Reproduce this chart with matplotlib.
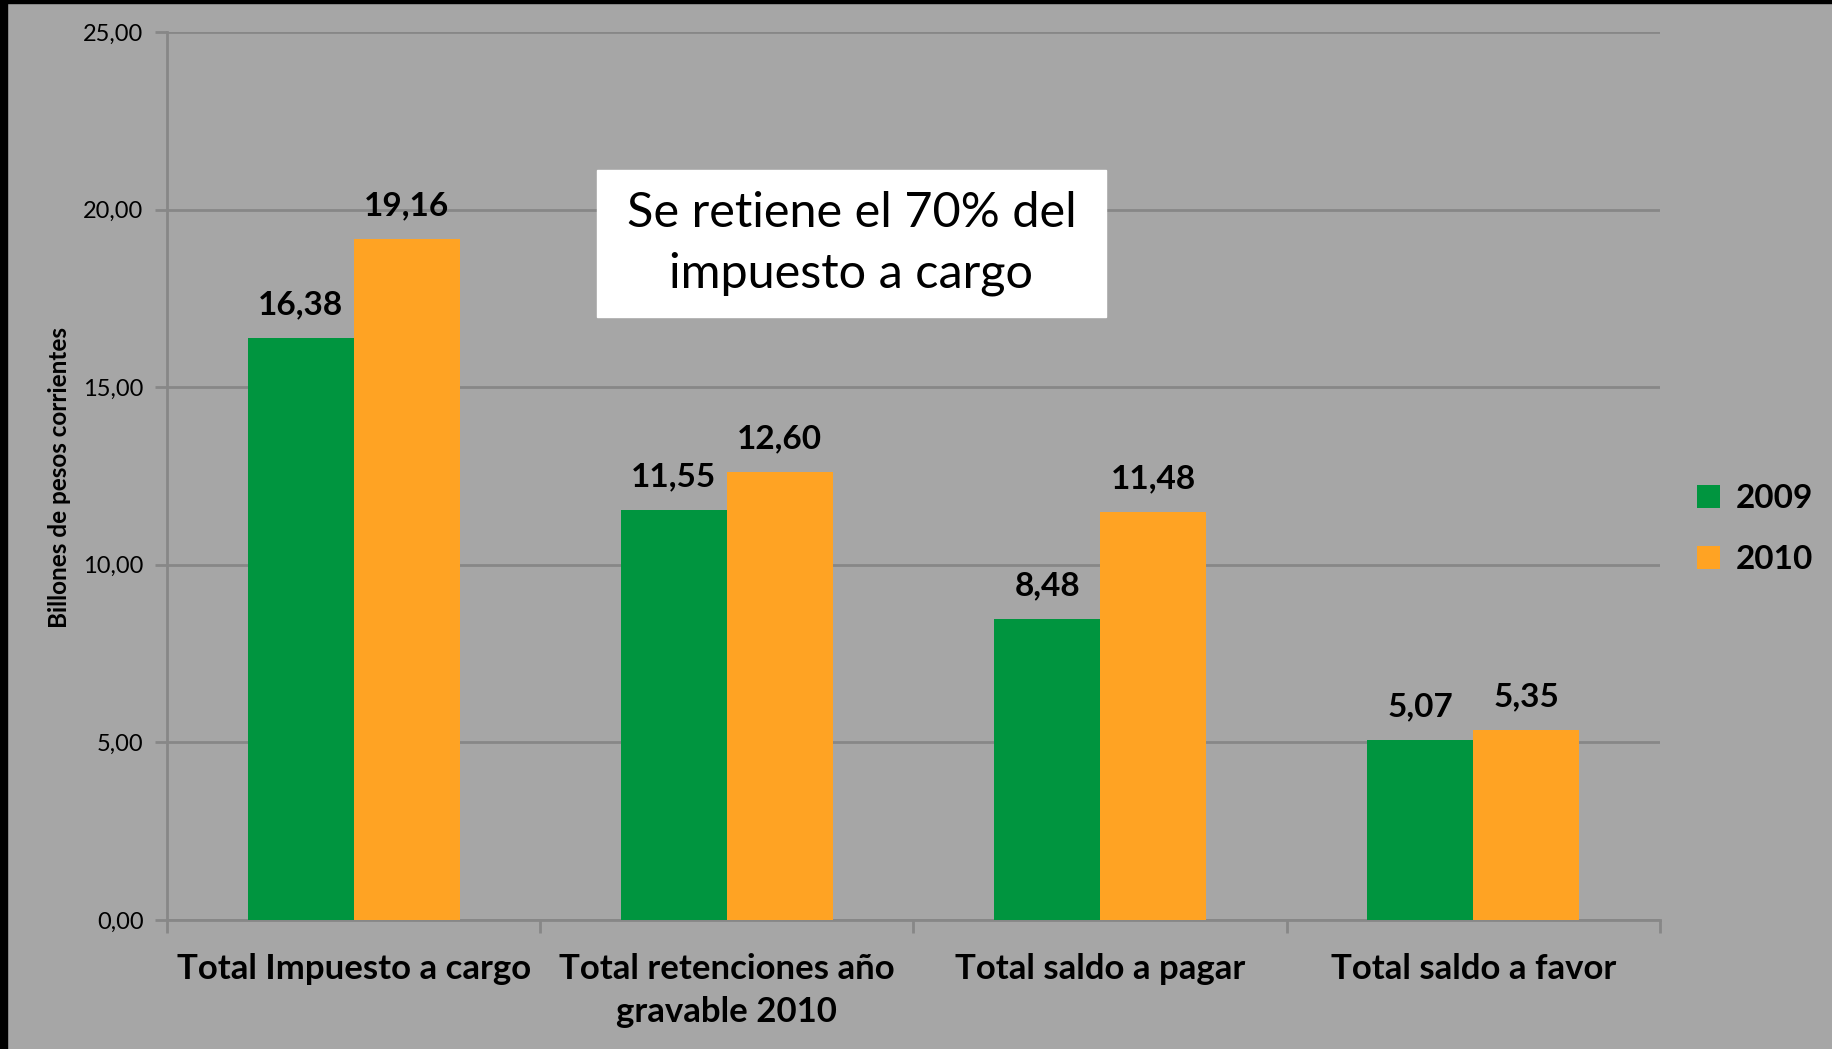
import matplotlib
matplotlib.use("Agg")
import matplotlib.pyplot as plt
import numpy as np
from matplotlib.patches import Rectangle

categories = ["Total Impuesto a cargo", "Total retenciones año\ngravable 2010",
              "Total saldo a pagar", "Total saldo a favor"]
series_names = ["2009", "2010"]
values_2009 = [16.38, 11.55, 8.48, 5.07]
values_2010 = [19.16, 12.60, 11.48, 5.35]
ytick_vals = [0, 5, 10, 15, 20, 25]

FONT = ["Lato", "DejaVu Sans"]
plt.rcParams['font.family'] = FONT

BG = "#a6a6a6"
GRID = "#878787"
GREEN = "#00953f"
ORANGE = "#ffa323"

W, H = 1833, 1049
fig = plt.figure(figsize=(W / 100, H / 100), dpi=100, facecolor=BG)
ax = fig.add_axes([167 / W, 1 - 920 / H, (1660 - 167) / W, (920 - 32) / H])
ax.set_facecolor(BG)

# black border left/top
fig.patches.append(Rectangle((0, 0), 7 / W, 1, transform=fig.transFigure, color="black", zorder=10))
fig.patches.append(Rectangle((0, 1 - 3 / H), 1, 3 / H, transform=fig.transFigure, color="black", zorder=10))

x = np.arange(len(categories))
bw = 0.284
b1 = ax.bar(x - bw / 2, values_2009, bw, color=GREEN, label=series_names[0], zorder=3)
b2 = ax.bar(x + bw / 2, values_2010, bw, color=ORANGE, label=series_names[1], zorder=3)

for bars, vals in ((b1, values_2009), (b2, values_2010)):
    for r, v in zip(bars, vals):
        ax.annotate(f"{v:.2f}".replace(".", ","), (r.get_x() + r.get_width() / 2, v),
                    xytext=(0, 24), textcoords="offset points", ha="center", va="center",
                    fontsize=24, fontweight="bold", color="black")

ax.set_xlim(-0.5, len(categories) - 0.5)
ax.set_ylim(0, 25)
ax.set_yticks(ytick_vals)
ax.set_yticklabels([f"{v:.2f}".replace(".", ",") for v in ytick_vals], fontsize=17)
ax.yaxis.grid(True, color=GRID, linewidth=2, zorder=0)
ax.set_axisbelow(True)

ax.set_xticks(np.arange(len(categories) + 1) - 0.5)
ax.set_xticklabels([])
ax.set_xticks(x, minor=True)
ax.set_xticklabels(categories, minor=True, fontsize=25, fontweight="bold", linespacing=1.42)
ax.tick_params(axis="x", which="minor", length=0, pad=24)
ax.tick_params(axis="x", which="major", length=9, width=2, color=GRID)
ax.tick_params(axis="y", length=9, width=2, color=GRID, pad=8)

for s in ("top", "right"):
    ax.spines[s].set_visible(False)
ax.spines["left"].set_color(GRID)
ax.spines["left"].set_linewidth(2)
ax.spines["bottom"].set_color(GRID)
ax.spines["bottom"].set_linewidth(2)

fig.text(60 / W, 1 - 477 / H, "Billones de pesos corrientes", rotation=90,
         ha="center", va="center", fontsize=17.5, fontweight="bold")

fig.text((597 + 1106) / 2 / W, 1 - (170 + 317) / 2 / H, "Se retiene el 70% del\nimpuesto a cargo",
         ha="center", va="center", fontsize=35, linespacing=1.48, zorder=5)
fig.patches.append(Rectangle((597 / W, 1 - 317 / H), (1106 - 597) / W, (317 - 170) / H,
                             transform=fig.transFigure, color="white", zorder=4))

leg = ax.legend(loc="center left", bbox_to_anchor=(1667 / W, 1 - 529 / H),
                bbox_transform=fig.transFigure, frameon=False,
                prop={"weight": "bold", "size": 24},
                handlelength=0.7, handleheight=0.7, handletextpad=0.45, labelspacing=0.95)

fig.savefig("out.png", dpi=100, facecolor=BG)
